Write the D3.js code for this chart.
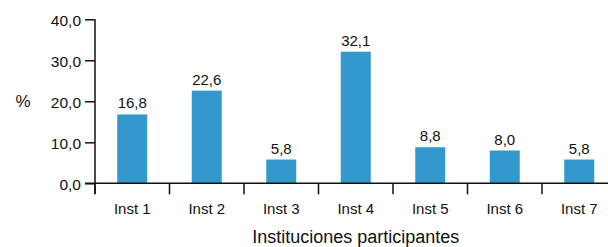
<!DOCTYPE html>
<html><head><meta charset="utf-8">
<script src="https://cdn.jsdelivr.net/npm/d3@7/dist/d3.min.js"></script>
<style>
body{margin:0;background:#fff;}
svg{display:block;}
text{font-family:"Liberation Sans",Arial,Helvetica,sans-serif;fill:#111;}
</style></head>
<body><svg id="c" width="608" height="247"></svg>
<script>
const categories = ["Inst 1","Inst 2","Inst 3","Inst 4","Inst 5","Inst 6","Inst 7"];
const values = [16.8, 22.6, 5.8, 32.1, 8.8, 8.0, 5.8];
const yTicks = [0, 10, 20, 30, 40];
const xTitle = "Instituciones participantes";
const yTitle = "%";

const svg = d3.select("#c");
const fmt = v => d3.format(".1f")(v).replace(".", ",");

const x = d3.scaleBand().domain(categories).range([95, 616.5]).padding(0);
const y = d3.scaleLinear().domain([0, 40]).range([183.3, 19.3]);
const barW = 30;

// bars
svg.selectAll("rect.bar").data(values).enter().append("rect")
  .attr("class","bar")
  .attr("x", (d,i) => x(categories[i]) + x.bandwidth()/2 - barW/2)
  .attr("y", d => y(d))
  .attr("width", barW)
  .attr("height", d => y(0) - y(d))
  .attr("fill", "#3399cc");

// value labels
svg.selectAll("text.val").data(values).enter().append("text")
  .attr("class","val")
  .attr("x", (d,i) => x(categories[i]) + x.bandwidth()/2)
  .attr("y", d => y(d) - 6)
  .attr("text-anchor","middle")
  .attr("font-size", 15)
  .text(d => fmt(d));

// y axis
const yAxis = d3.axisLeft(y).tickValues(yTicks).tickSize(10).tickPadding(4).tickFormat(fmt);
const gy = svg.append("g").attr("transform","translate(95,0)").call(yAxis);
gy.select(".domain").attr("stroke","#111").attr("stroke-width",1.5).attr("d","M0,19.3V194");
gy.selectAll(".tick line").attr("stroke","#111").attr("stroke-width",1.5);
gy.selectAll(".tick text").attr("font-size",15.5).attr("font-family",null).attr("fill","#111").attr("dy","0.4em");

// x axis line
svg.append("line").attr("x1",85).attr("x2",616.5).attr("y1",y(0)).attr("y2",y(0))
  .attr("stroke","#111").attr("stroke-width",1.5);
// x boundary ticks
const bounds = categories.map(c => x(c));
svg.selectAll("line.xt").data(bounds).enter().append("line")
  .attr("class","xt")
  .attr("x1", d => d).attr("x2", d => d)
  .attr("y1", y(0)).attr("y2", y(0) + 11)
  .attr("stroke","#111").attr("stroke-width",1.5);
// x labels
svg.selectAll("text.xl").data(categories).enter().append("text")
  .attr("class","xl")
  .attr("x", d => x(d) + x.bandwidth()/2)
  .attr("y", 214)
  .attr("text-anchor","middle")
  .attr("font-size",15)
  .text(d => d);

// titles
svg.append("text").attr("x", (95+616.5)/2).attr("y", 243).attr("text-anchor","middle")
  .attr("font-size",18).text(xTitle);
svg.append("text").attr("x", 23).attr("y", y(20)+6).attr("text-anchor","middle")
  .attr("font-size",17).text(yTitle);
</script></body></html>
